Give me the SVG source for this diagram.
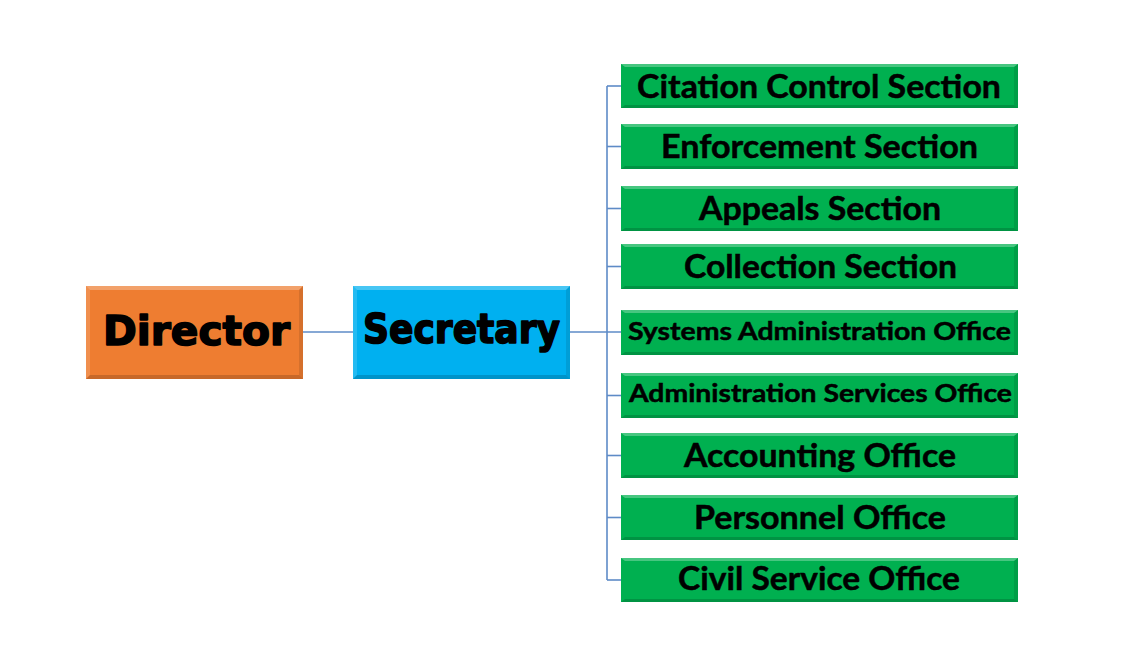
<svg xmlns="http://www.w3.org/2000/svg" width="1138" height="672" viewBox="0 0 1138 672">
<style>
.conn{stroke:#5E8BC7;stroke-width:1.6;fill:none}
.bt{fill:#ffffff;opacity:0.28}
.bl{fill:#ffffff;opacity:0.14}
.br{fill:#000000;opacity:0.10}
.bb{fill:#000000;opacity:0.16}
.org{fill:#EE7D31}
.blu{fill:#00B0F0}
.grn{fill:#00B050}
.big{font-family:"DejaVu Sans",sans-serif;font-weight:bold;font-size:40px;fill:#000;stroke:#000;stroke-width:1.6;stroke-linejoin:round}
.lg{font-family:Lato,"Open Sans",sans-serif;font-weight:bold;font-size:33px;fill:#000;stroke:#000;stroke-width:0.5}
.sm{font-family:Lato,"Open Sans",sans-serif;font-weight:bold;font-size:25px;fill:#000;stroke:#000;stroke-width:0.5}
</style>
<rect width="1138" height="672" fill="#ffffff"/>
<g id="connectors">
<line class="conn" x1="303" y1="332" x2="353" y2="332"/>
<line class="conn" x1="570" y1="332" x2="621" y2="332"/>
<line class="conn" x1="607" y1="86" x2="607" y2="580"/>
<line class="conn" x1="607" y1="86" x2="621" y2="86"/>
<line class="conn" x1="607" y1="146.5" x2="621" y2="146.5"/>
<line class="conn" x1="607" y1="208.5" x2="621" y2="208.5"/>
<line class="conn" x1="607" y1="266.5" x2="621" y2="266.5"/>
<line class="conn" x1="607" y1="395.5" x2="621" y2="395.5"/>
<line class="conn" x1="607" y1="455.5" x2="621" y2="455.5"/>
<line class="conn" x1="607" y1="517.5" x2="621" y2="517.5"/>
<line class="conn" x1="607" y1="580" x2="621" y2="580"/>
</g>
<g id="director">
<rect class="org" x="86" y="286" width="217" height="93"/>
<path class="bt" d="M86,286 H303 L299,290 H90 Z"/>
<path class="bl" d="M86,286 L90,290 V375 L86,379 Z"/>
<path class="br" d="M303,286 V379 L299,375 V290 Z"/>
<path class="bb" d="M86,379 H303 L299,375 H90 Z"/>
<text class="big" x="196.5" y="345" text-anchor="middle" textLength="187" lengthAdjust="spacingAndGlyphs">Director</text>
</g>
<g id="secretary">
<rect class="blu" x="353" y="286" width="217" height="93"/>
<path class="bt" d="M353,286 H570 L566,290 H357 Z"/>
<path class="bl" d="M353,286 L357,290 V375 L353,379 Z"/>
<path class="br" d="M570,286 V379 L566,375 V290 Z"/>
<path class="bb" d="M353,379 H570 L566,375 H357 Z"/>
<text class="big" x="461.5" y="343" text-anchor="middle" textLength="197" lengthAdjust="spacingAndGlyphs">Secretary</text>
</g>
<g id="citation">
<rect class="grn" x="621" y="64" width="397" height="44"/>
<path class="bt" d="M621,64 H1018 L1014,67 H625 Z"/>
<path class="br" d="M1018,64 V108 L1014,105 V67 Z"/>
<path class="bb" d="M621,108 H1018 L1014,105 H625 Z"/>
<text class="lg" x="819" y="97.5" text-anchor="middle" textLength="364" lengthAdjust="spacingAndGlyphs">Citation Control Section</text>
</g>
<g id="enforcement">
<rect class="grn" x="621" y="124" width="397" height="45"/>
<path class="bt" d="M621,124 H1018 L1014,127 H625 Z"/>
<path class="br" d="M1018,124 V169 L1014,166 V127 Z"/>
<path class="bb" d="M621,169 H1018 L1014,166 H625 Z"/>
<text class="lg" x="819.5" y="158" text-anchor="middle" textLength="317" lengthAdjust="spacingAndGlyphs">Enforcement Section</text>
</g>
<g id="appeals">
<rect class="grn" x="621" y="186" width="397" height="45"/>
<path class="bt" d="M621,186 H1018 L1014,189 H625 Z"/>
<path class="br" d="M1018,186 V231 L1014,228 V189 Z"/>
<path class="bb" d="M621,231 H1018 L1014,228 H625 Z"/>
<text class="lg" x="820" y="220" text-anchor="middle" textLength="242" lengthAdjust="spacingAndGlyphs">Appeals Section</text>
</g>
<g id="collection">
<rect class="grn" x="621" y="244" width="397" height="45"/>
<path class="bt" d="M621,244 H1018 L1014,247 H625 Z"/>
<path class="br" d="M1018,244 V289 L1014,286 V247 Z"/>
<path class="bb" d="M621,289 H1018 L1014,286 H625 Z"/>
<text class="lg" x="820.5" y="278" text-anchor="middle" textLength="273" lengthAdjust="spacingAndGlyphs">Collection Section</text>
</g>
<g id="systems">
<rect class="grn" x="621" y="310" width="397" height="45"/>
<path class="bt" d="M621,310 H1018 L1014,313 H625 Z"/>
<path class="br" d="M1018,310 V355 L1014,352 V313 Z"/>
<path class="bb" d="M621,355 H1018 L1014,352 H625 Z"/>
<text class="sm" x="819.5" y="340" text-anchor="middle" textLength="383" lengthAdjust="spacingAndGlyphs">Systems Administration Office</text>
</g>
<g id="adminservices">
<rect class="grn" x="621" y="373" width="397" height="45"/>
<path class="bt" d="M621,373 H1018 L1014,376 H625 Z"/>
<path class="br" d="M1018,373 V418 L1014,415 V376 Z"/>
<path class="bb" d="M621,418 H1018 L1014,415 H625 Z"/>
<text class="sm" x="820.5" y="402" text-anchor="middle" textLength="383" lengthAdjust="spacingAndGlyphs">Administration Services Office</text>
</g>
<g id="accounting">
<rect class="grn" x="621" y="433" width="397" height="45"/>
<path class="bt" d="M621,433 H1018 L1014,436 H625 Z"/>
<path class="br" d="M1018,433 V478 L1014,475 V436 Z"/>
<path class="bb" d="M621,478 H1018 L1014,475 H625 Z"/>
<text class="lg" x="820" y="467" text-anchor="middle" textLength="272" lengthAdjust="spacingAndGlyphs">Accounting Office</text>
</g>
<g id="personnel">
<rect class="grn" x="621" y="495" width="397" height="45"/>
<path class="bt" d="M621,495 H1018 L1014,498 H625 Z"/>
<path class="br" d="M1018,495 V540 L1014,537 V498 Z"/>
<path class="bb" d="M621,540 H1018 L1014,537 H625 Z"/>
<text class="lg" x="820" y="529" text-anchor="middle" textLength="252" lengthAdjust="spacingAndGlyphs">Personnel Office</text>
</g>
<g id="civilservice">
<rect class="grn" x="621" y="558" width="397" height="44"/>
<path class="bt" d="M621,558 H1018 L1014,561 H625 Z"/>
<path class="br" d="M1018,558 V602 L1014,599 V561 Z"/>
<path class="bb" d="M621,602 H1018 L1014,599 H625 Z"/>
<text class="lg" x="819" y="590" text-anchor="middle" textLength="282" lengthAdjust="spacingAndGlyphs">Civil Service Office</text>
</g>
</svg>
